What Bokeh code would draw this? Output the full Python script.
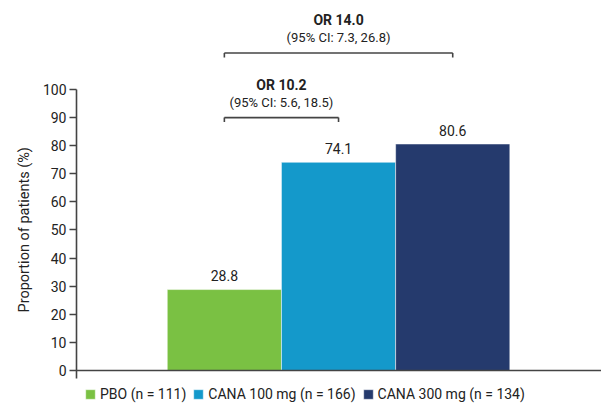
from bokeh.plotting import figure
from bokeh.models import (ColumnDataSource, Range1d, FixedTicker, Span,
                          Legend, LegendItem, Title)
from bokeh.embed import file_html
from bokeh.resources import INLINE
from bokeh.core.properties import value

# ---- data ----
groups = ["PBO (n = 111)", "CANA 100 mg (n = 166)", "CANA 300 mg (n = 134)"]
positions = [1, 2, 3]
proportions = [28.8, 74.1, 80.6]
value_labels = ["28.8", "74.1", "80.6"]
colors = ["#7AC143", "#1499CB", "#253A6D"]

y_ticks = [0, 10, 20, 30, 40, 50, 60, 70, 80, 90, 100]

bracket_start = [1, 1]
bracket_end = [2, 3]
bracket_y = [90, 113]
or_labels = ["OR 10.2", "OR 14.0"]
ci_labels = ["(95% CI: 5.6, 18.5)", "(95% CI: 7.3, 26.8)"]

FONT = "Roboto"
TXT = "#222222"
LINE = "#444444"

p = figure(width=601, height=406, output_backend="svg", toolbar_location=None,
           x_range=Range1d(-0.295, 4.303), y_range=Range1d(-12.81, 131.67),
           min_border_left=76, min_border_right=0, min_border_top=0,
           min_border_bottom=0)
p.outline_line_color = None
p.grid.visible = False
p.xaxis.visible = False

src = ColumnDataSource(dict(x=positions, top=proportions, color=colors,
                            label=groups, vl=value_labels))
bars = p.vbar(x="x", top="top", bottom=0, width=1.0, fill_color="color",
              line_color="white", line_width=0.5, source=src)

p.text(x="x", y="top", text="vl", source=src, text_align="center",
       text_baseline="middle", y_offset=-14, text_font=value(FONT),
       text_font_size="14px", text_color=TXT)

# brackets
bsrc = ColumnDataSource(dict(x0=bracket_start, x1=bracket_end, y=bracket_y,
                             xm=[(a + b) / 2 for a, b in zip(bracket_start, bracket_end)],
                             yl=[v - 1.6 for v in bracket_y],
                             orl=or_labels, cil=ci_labels))
p.segment(x0="x0", y0="y", x1="x1", y1="y", source=bsrc, line_color=LINE, line_width=1.6)
p.segment(x0="x0", y0="y", x1="x0", y1="yl", source=bsrc, line_color=LINE, line_width=1.6)
p.segment(x0="x1", y0="y", x1="x1", y1="yl", source=bsrc, line_color=LINE, line_width=1.6)
p.text(x="xm", y="y", text="orl", source=bsrc, text_align="center",
       text_baseline="middle", y_offset=-33, text_font=value(FONT),
       text_font_size="14px", text_font_style="bold", text_color=TXT)
p.text(x="xm", y="y", text="cil", source=bsrc, text_align="center",
       text_baseline="middle", y_offset=-15, text_font=value(FONT),
       text_font_size="13px", text_color=TXT)

# baseline
p.add_layout(Span(location=0, dimension="width", line_color=LINE, line_width=1.6))

# y axis
ya = p.yaxis[0]
ya.ticker = FixedTicker(ticks=y_ticks)
ya.bounds = (-2.8, 100)
ya.axis_line_color = LINE
ya.axis_line_width = 1.6
ya.major_tick_line_color = LINE
ya.major_tick_line_width = 1.4
ya.major_tick_out = 7
ya.major_tick_in = 0
ya.minor_tick_line_color = None
ya.major_label_standoff = 3
ya.major_label_text_font = FONT
ya.major_label_text_font_size = "14px"
ya.major_label_text_color = TXT

p.add_layout(Title(text="Proportion of patients (%)", align="left", offset=94,
                   text_font=FONT, text_font_size="14.5px", text_font_style="normal",
                   text_color=TXT, standoff=14), "left")

legend = Legend(items=[LegendItem(label=g, renderers=[bars], index=i)
                       for i, g in enumerate(groups)],
                orientation="horizontal", location=(8, 4),
                background_fill_alpha=0, border_line_color=None,
                padding=0, margin=0, spacing=6, glyph_width=12, glyph_height=12,
                label_standoff=4, label_height=12,
                label_text_font=FONT, label_text_font_size="14px",
                label_text_color=TXT, label_text_baseline="middle")
p.add_layout(legend, "center")

open("out.html", "w").write(file_html(p, INLINE))
